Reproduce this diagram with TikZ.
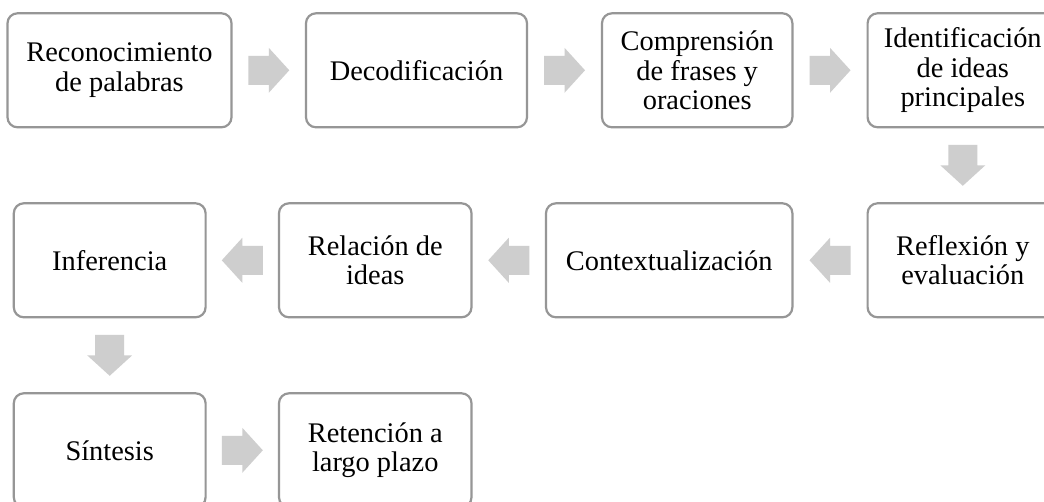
\documentclass[tikz,border=0pt]{standalone}
\usepackage{fontspec}
\setmainfont{Liberation Serif}
\usetikzlibrary{calc}
\definecolor{boxline}{RGB}{150,150,150}
\definecolor{arrowgray}{RGB}{206,206,206}
\begin{document}
\begin{tikzpicture}[x=1pt,y=-1pt,
  stepbox/.style={draw=boxline, line width=2.2pt, rounded corners=10pt, fill=white,
    align=center, minimum height=114pt, inner sep=0pt,
    font=\fontsize{28.4}{29.5}\selectfont},
  barrow/.pic={\fill[arrowgray] (-20.5,-14.5) -- (0,-14.5) -- (0,-22.5) -- (20.5,0)
    -- (0,22.5) -- (0,14.5) -- (-20.5,14.5) -- cycle;}]
\useasboundingbox (0,0) rectangle (1044,502);
\fill[white] (0,0) rectangle (1044,502);
\clip (0,0) rectangle (1044,502);
% row 1
\node[stepbox, minimum width=224pt] (b1) at (119.5,70.3) {Reconocimiento\\de palabras};
\node[stepbox, minimum width=221pt] (b2) at (416.5,70.3) {Decodificación};
\node[stepbox, minimum width=190.4pt] (b3) at (697.2,70.3) {Comprensión\\de frases y\\oraciones};
\node[stepbox, minimum width=190.4pt] (b4) at (962.8,70.3) {Identificación\\de ideas\\principales};
% row 2
\node[stepbox, minimum width=190.4pt] (b5) at (962.8,260.3) {Reflexión y\\evaluación};
\node[stepbox, minimum width=246.4pt] (b6) at (669.2,260.3) {Contextualización};
\node[stepbox, minimum width=192.5pt] (b7) at (375.25,260.3) {Relación de\\ideas};
\node[stepbox, minimum width=191.8pt] (b8) at (109.7,260.3) {Inferencia};
% row 3
\node[stepbox, minimum width=191.8pt] (b9) at (109.7,450.3) {Síntesis};
\node[stepbox, minimum width=192.5pt] (b10) at (375.25,450.3) {Retención a\\largo plazo};
% block arrows
\pic at ($(b1.east)!0.5!(b2.west)$) {barrow};
\pic at ($(b2.east)!0.5!(b3.west)$) {barrow};
\pic at ($(b3.east)!0.5!(b4.west)$) {barrow};
\pic[rotate=-90] at ($(b4.south)!0.5!(b5.north)$) {barrow};
\pic[rotate=180] at ($(b5.west)!0.5!(b6.east)$) {barrow};
\pic[rotate=180] at ($(b6.west)!0.5!(b7.east)$) {barrow};
\pic[rotate=180] at ($(b7.west)!0.5!(b8.east)$) {barrow};
\pic[rotate=-90] at ($(b8.south)!0.5!(b9.north)$) {barrow};
\pic at ($(b9.east)!0.5!(b10.west)$) {barrow};
\end{tikzpicture}
\end{document}
